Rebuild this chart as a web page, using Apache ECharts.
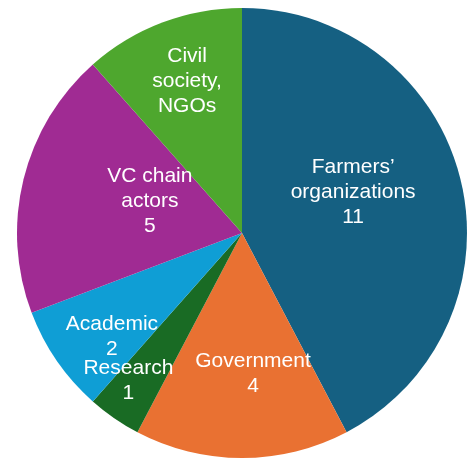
<!DOCTYPE html>
<html>
<head>
<meta charset="utf-8">
<script src="https://cdn.jsdelivr.net/npm/echarts@6/dist/echarts.min.js"></script>
<style>
  html, body { margin: 0; padding: 0; background: #ffffff; }
  #chart { width: 474px; height: 460px; }
</style>
</head>
<body>
<div id="chart"></div>
<script>
// Stakeholder groups, in clockwise order from 12 o'clock
const categories = ['Farmers’ organizations', 'Government', 'Research', 'Academic', 'VC chain actors', 'Civil society, NGOs'];
const counts = [11, 4, 1, 2, 5, 3];
// How each slice's name is broken over lines in its label
const labelLines = [
  ['Farmers’', 'organizations'],
  ['Government'],
  ['Research'],
  ['Academic'],
  ['VC chain', 'actors'],
  ['Civil', 'society,', 'NGOs']
];
// Whether the count is printed under the name
const showCount = [true, true, true, true, true, false];
const colors = ['#156082', '#E97132', '#196B24', '#0F9ED5', '#A02B93', '#4EA72E'];
// Nudges from the default inside-label anchor
const labelOffsets = [[-1, -13], [11, 25], [-48, 53], [-35, 38], [20, -4], [-14, -44]];

const chart = echarts.init(document.getElementById('chart'), null, { renderer: 'canvas' });

const data = categories.map((name, i) => ({
  name: name,
  value: counts[i],
  itemStyle: { color: colors[i] },
  label: { offset: labelOffsets[i] }
}));

chart.setOption({
  animation: false,
  series: [{
    type: 'pie',
    center: [242, 233],
    radius: [0, 225],
    startAngle: 90,
    clockwise: true,
    avoidLabelOverlap: false,
    minShowLabelAngle: 0,
    itemStyle: { borderWidth: 0 },
    label: {
      show: true,
      position: 'inside',
      color: '#ffffff',
      fontFamily: '"Liberation Sans", Arial, sans-serif',
      fontSize: 21,
      lineHeight: 25,
      align: 'center',
      formatter: function (p) {
        const i = p.dataIndex;
        const lines = labelLines[i].slice();
        if (showCount[i]) lines.push(String(p.value));
        return lines.join('\n');
      }
    },
    labelLayout: { hideOverlap: false },
    labelLine: { show: false },
    emphasis: { disabled: true },
    data: data
  }]
});
</script>
</body>
</html>
